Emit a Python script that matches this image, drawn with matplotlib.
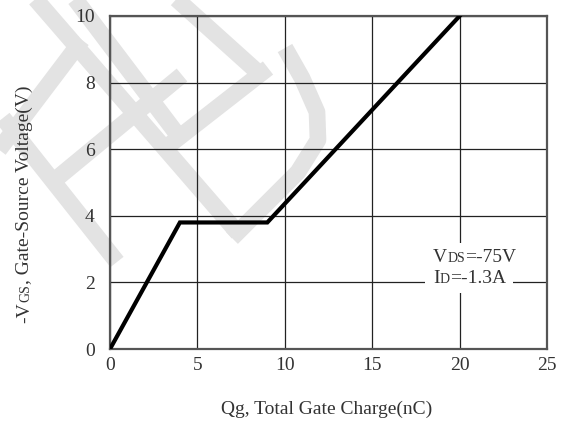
import matplotlib
matplotlib.use("Agg")
import matplotlib.pyplot as plt
from matplotlib.patches import Rectangle
from matplotlib.lines import Line2D
from matplotlib.transforms import IdentityTransform

plt.rcParams["font.family"] = ["Liberation Serif", "DejaVu Serif"]

# gate charge curve
qg = [0, 4, 9, 20]
vgs = [0, 3.8, 3.8, 10]
x_ticks = [0, 5, 10, 15, 20, 25]
y_ticks = [0, 2, 4, 6, 8, 10]

W, H = 562, 423
fig = plt.figure(figsize=(W / 100, H / 100), dpi=100)

# faint logo watermark behind the chart (pixel coords, y from top)
marks = [
    [(32, -5), (238, 233)],
    [(3, 118), (117, 262)],
    [(72, -5), (180, 138)],
    [(172, -5), (262, 76)],
    [(-5, 155), (82, 40)],
    [(50, 184), (182, 75)],
    [(168, 146), (268, 68)],
    [(232, 238), (298, 172), (318, 140), (317, 112), (302, 78), (285, 48)],
]
for pts in marks:
    xs = [p[0] for p in pts]
    ys = [H - p[1] for p in pts]
    fig.add_artist(Line2D(xs, ys, transform=IdentityTransform(), color="#e3e3e3",
                          linewidth=12, solid_capstyle="butt",
                          solid_joinstyle="round", zorder=0))

ax = fig.add_axes([110 / W, 74 / H, 437 / W, 333 / H])
ax.set_facecolor("none")

ax.set_xlim(0, 25)
ax.set_ylim(0, 10)
ax.set_xticks(x_ticks)
ax.set_yticks(y_ticks)
ax.tick_params(axis="x", length=0, pad=6, labelsize=14, colors="#333333")
ax.tick_params(axis="y", length=0, pad=11, labelsize=14, colors="#333333")
ax.set_axisbelow(True)
ax.grid(True, color="#222222", linewidth=0.9)
for sp in ax.spines.values():
    sp.set_color("#555555")
    sp.set_linewidth(1.6)

ax.plot(qg, vgs, color="black", linewidth=3, solid_joinstyle="miter", zorder=3)

# white box behind the condition text
ax.add_patch(Rectangle((18.02, 1.68), 5.03, 1.5, facecolor="white",
                       edgecolor="none", zorder=2))

renderer = fig.canvas.get_renderer()


def rich_text(x_px, y_px, parts, rotation=0):
    # draw text pieces of different sizes sharing one baseline
    for s, size in parts:
        t = fig.text(x_px / W, y_px / H, s, fontsize=size, color="#333333",
                     rotation=rotation, rotation_mode="anchor",
                     ha="left", va="baseline", zorder=5)
        bb = t.get_window_extent(renderer)
        if rotation == 90:
            y_px += bb.height
        else:
            x_px += bb.width


rich_text(433, H - 262, [("V", 14), ("DS", 10), ("=-75V", 14)])
rich_text(433, H - 283, [("I", 14), ("D", 10), ("=-1.3A", 14)])
rich_text(29, H - 323, [("-V", 14), ("GS", 10), (", Gate-Source Voltage(V)", 14)],
          rotation=90)

fig.text(327 / W, (H - 414) / H, "Qg, Total Gate Charge(nC)", fontsize=14,
         color="#333333", ha="center", va="baseline")

fig.savefig("out.png", dpi=100)
